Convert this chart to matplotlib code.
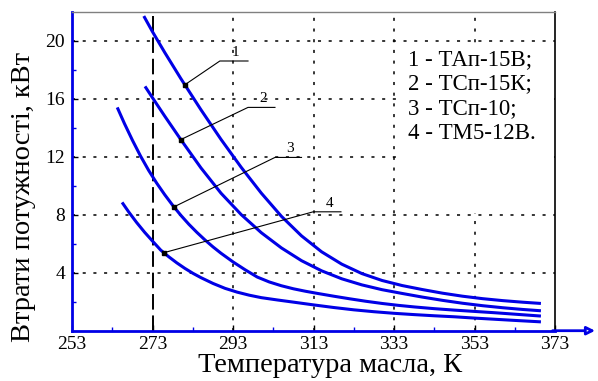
import matplotlib
matplotlib.use("Agg")
import matplotlib.pyplot as plt
from matplotlib.patches import Rectangle

plt.rcParams['font.family'] = ['Liberation Serif', 'DejaVu Serif']

# криві втрат потужності (температура, К ; втрати, кВт)
t1 = [270.8, 273, 276, 280, 285, 290, 295, 300, 305, 310, 315, 320, 325, 330,
      335, 340, 345, 350, 355, 360, 365, 369.5]
p1 = [21.7, 20.6, 19.19, 17.39, 15.24, 13.19, 11.27, 9.49, 7.89, 6.54, 5.44,
      4.59, 3.94, 3.465, 3.115, 2.84, 2.59, 2.38, 2.21, 2.075, 1.965, 1.88]

t2 = [271.1, 273, 276, 280, 285, 290, 295, 300, 305, 310, 315, 320, 325, 330,
      335, 340, 345, 350, 355, 360, 365, 369.5]
p2 = [16.85, 16.05, 14.8, 13.18, 11.23, 9.48, 8.01, 6.76, 5.71, 4.83, 4.13,
      3.58, 3.16, 2.83, 2.57, 2.32, 2.095, 1.895, 1.725, 1.585, 1.465, 1.375]

t3 = [264.2, 266, 268, 270, 272, 274, 276, 278, 280, 282, 284, 286, 288, 290,
      293, 296, 299, 302, 305, 308, 311, 314, 318, 322, 326, 330, 334, 338,
      343, 348, 353, 358, 363, 369.5]
p3 = [15.4, 14.28, 13.12, 12.04, 11.06, 10.18, 9.38, 8.64, 7.96, 7.34, 6.78,
      6.26, 5.78, 5.34, 4.74, 4.2, 3.7, 3.36, 3.1, 2.89, 2.72, 2.57, 2.38,
      2.2, 2.03, 1.88, 1.75, 1.64, 1.52, 1.42, 1.33, 1.24, 1.14, 1.01]

t4 = [265.4, 267, 269, 271, 273, 275, 277, 279, 281, 283, 285, 288, 291, 294,
      297, 300, 304, 308, 313, 318, 323, 328, 333, 338, 343, 348, 353, 358,
      363, 369.5]
p4 = [8.85, 8.21, 7.47, 6.79, 6.17, 5.56, 5.1, 4.68, 4.3, 3.96, 3.66, 3.26,
      2.92, 2.66, 2.45, 2.28, 2.12, 1.97, 1.78, 1.6, 1.44, 1.31, 1.2, 1.11,
      1.03, 0.96, 0.87, 0.79, 0.71, 0.61]

# точки-виноски на кривих
mark_t = [281.0, 280.0, 278.3, 275.8]
mark_p = [16.96, 13.18, 8.54, 5.38]
nums = ["1", "2", "3", "4"]

legend_lines = ["1 - ТАп-15В;", "2 - ТСп-15К;", "3 - ТСп-10;", "4 - ТМ5-12В."]

x_major = [253, 273, 293, 313, 333, 353, 373]
x_minor = [263, 283, 303, 323, 343, 363]
y_major = [4, 8, 12, 16, 20]
y_minor = [2, 6, 10, 14, 18]

blue = '#0000e6'

fig = plt.figure(figsize=(5.98, 3.81), dpi=100)
ax = fig.add_axes([0.1207, 0.132, 0.8074, 0.8373])
ax.set_xlim(253, 373)
ax.set_ylim(0, 22)

# сітка пунктиром
for g in y_major:
    ax.axhline(g, color='k', lw=1.1, ls=(0, (2, 5)), zorder=1)
for g in x_major[2:-1]:
    ax.axvline(g, color='k', lw=1.1, ls=(0, (2, 5)), zorder=1)
ax.axvline(273, color='k', lw=1.4, ls=(0, (8, 3)), zorder=1)

# криві
for t, p in [(t1, p1), (t2, p2), (t3, p3), (t4, p4)]:
    ax.plot(t, p, color=blue, lw=2.2, zorder=3, solid_capstyle='butt',
            solid_joinstyle='round')

# виноски з номерами кривих
elbows = [(289.7, 18.6, 296.7), (296.7, 15.4, 303.4),
          (303.4, 11.95, 310.0), (312.9, 8.2, 319.8)]
for mt, mp, (et, ep, st), n in zip(mark_t, mark_p, elbows, nums):
    ax.plot([mt, et, st], [mp, ep, ep], color='k', lw=0.8, zorder=4)
    ax.plot(mt, mp, 's', color='k', ms=3.5, zorder=5)
    ax.text((et + st) / 2 + 0.5, ep + 0.15, n, fontsize=11, ha='center',
            va='bottom')

# підписи марок масла на білому полі
ax.add_patch(Rectangle((0.673, 0.369), 0.325, 0.531, transform=ax.transAxes,
                       fc='white', ec='none', zorder=2))
for i, lab in enumerate(legend_lines):
    ax.text(0.6955, 0.851 - i * 0.078, lab, transform=ax.transAxes,
            fontsize=16.5, va='center', ha='left', zorder=6)

# осі
ax.spines['left'].set_color(blue)
ax.spines['left'].set_linewidth(2.0)
ax.spines['bottom'].set_color(blue)
ax.spines['bottom'].set_linewidth(2.0)
ax.spines['right'].set_color('k')
ax.spines['right'].set_linewidth(1.2)
ax.spines['top'].set_color('#808080')
ax.spines['top'].set_linewidth(1.0)

ax.annotate('', xy=(1.083, 0), xytext=(0.995, 0), xycoords='axes fraction',
            arrowprops=dict(arrowstyle='-|>', fc='white', ec=blue, lw=2,
                            mutation_scale=12, shrinkA=0, shrinkB=0),
            annotation_clip=False)

ax.set_xticks(x_major)
ax.set_xticks(x_minor, minor=True)
ax.set_yticks(y_major)
ax.set_yticks(y_minor, minor=True)
ax.tick_params(which='both', direction='in', labelsize=14)
ax.tick_params(which='major', length=4, color='k', width=1)
ax.tick_params(which='minor', length=3, color=blue, width=1)
ax.tick_params(axis='x', pad=3.5)
ax.tick_params(axis='y', pad=5)

ax.set_xlabel("Температура масла, К", fontsize=20.5, va='center')
ax.xaxis.set_label_coords(0.534, -0.1075)
ax.set_ylabel("Втрати потужності, кВт", fontsize=20.5, va='center')
ax.yaxis.set_label_coords(-0.1, 0.419)

fig.savefig("out.png", dpi=100)
